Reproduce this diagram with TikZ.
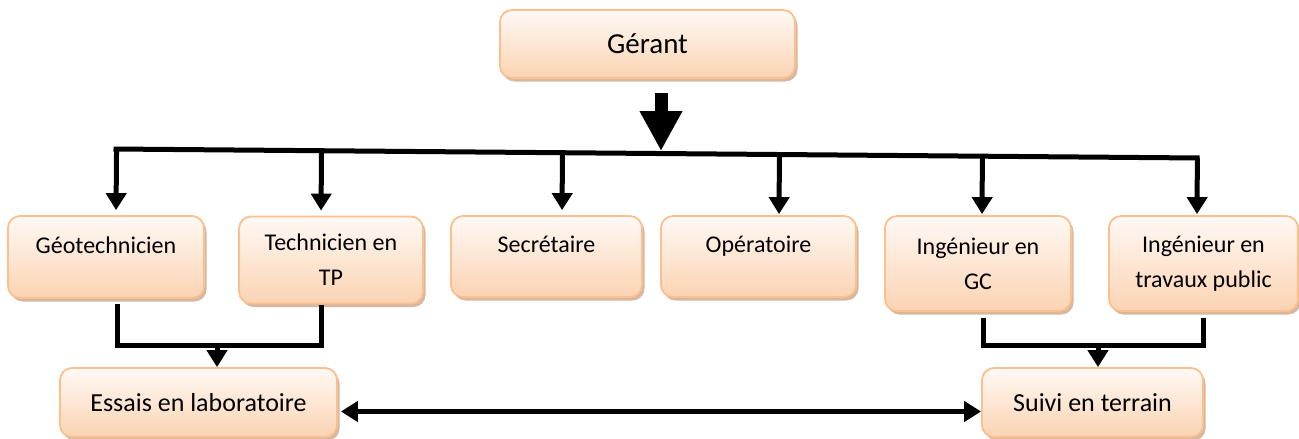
\documentclass[tikz,border=0pt]{standalone}
\usepackage{fontspec}
\setmainfont{Carlito}
\usetikzlibrary{arrows.meta,shadows,calc}

\definecolor{boxline}{RGB}{250,192,143}
\definecolor{boxtop}{RGB}{255,249,245}
\definecolor{boxbot}{RGB}{251,211,178}
\definecolor{boxshadow}{RGB}{205,165,135}

\begin{document}
\begin{tikzpicture}[x=1pt,y=-1pt]
\useasboundingbox (0,0) rectangle (1299,439);

\tikzset{
    box/.style = {draw=boxline, line width=1.8pt, rounded corners=12pt,
        top color=boxtop, bottom color=boxbot, inner sep=0pt, align=center,
        drop shadow={shadow xshift=2.5pt, shadow yshift=-3.5pt, fill=boxshadow, opacity=.8}},
    role/.style = {box, font=\fontsize{24}{35}\selectfont},
    task/.style = {box, font=\fontsize{26}{32}\selectfont},
    link/.style = {line width=5pt},
    drop/.style = {line width=5pt, -{Triangle[width=20pt,length=17pt]}},
    both/.style = {line width=5pt, {Triangle[width=20pt,length=17pt]}-{Triangle[width=20pt,length=17pt]}},
    bigarrow/.style = {line width=13pt, -{Triangle[width=40pt,length=40pt]}}
}

\node [box, font=\fontsize{29}{35}\selectfont, minimum width=295pt, minimum height=68pt] (gerant) at (647.5,44) {Gérant};

\node [role, minimum width=196pt, minimum height=82pt] (geo) at (106,257) {Géotechnicien\\[-22pt]\strut};
\node [role, minimum width=184pt, minimum height=87pt] (tech) at (331,260) {Technicien en\\TP};
\node [role, minimum width=191pt, minimum height=81pt] (secr) at (546.5,256.5) {Secrétaire\\[-20pt]\strut};
\node [role, minimum width=195pt, minimum height=81pt] (oper) at (758.5,256.5) {Opératoire\\[-20pt]\strut};
\node [role, minimum width=186pt, minimum height=95pt] (gc) at (978,263.5) {Ingénieur en\\GC};
\node [role, minimum width=189pt, minimum height=95pt] (tpub) at (1203.5,263.5) {Ingénieur en\\travaux public};

\node [task, minimum width=277pt, minimum height=69pt] (essais) at (198.5,402.5) {Essais en laboratoire};
\node [task, minimum width=221pt, minimum height=69pt] (suivi) at (1092.5,402.5) {Suivi en terrain};

\coordinate (barL) at (113.5,149);
\coordinate (barR) at (1199.5,158);
\coordinate (hub) at (661,151);
\coordinate (labjoin) at (217,345);
\coordinate (fieldjoin) at (1098,345);

\draw [bigarrow] ([xshift=13.5pt,yshift=-14pt]gerant.south) -- (hub);
\draw [link] (barL) -- (barR);

\foreach \n/\dx/\gap in {geo/10/5, tech/-10/5, secr/15.5/5, oper/20.5/1, gc/4/1, tpub/-6.5/1}
    \draw [drop, shorten >=\gap pt] ($(barL)!([xshift=\dx pt]\n.north)!(barR)$) -- ([xshift=\dx pt]\n.north);

\draw [link] ([xshift=11pt,yshift=-5pt]geo.south) |- (labjoin) -| ([xshift=-10pt,yshift=-1pt]tech.south);
\draw [drop] (labjoin) -- (essais.north -| labjoin);

\draw [link] ([xshift=5pt,yshift=-6pt]gc.south) |- (fieldjoin) -| ([xshift=-0.5pt,yshift=-6pt]tpub.south);
\draw [drop] (fieldjoin) -- (suivi.north -| fieldjoin);

\draw [both, shorten <=3pt] ([yshift=-9pt]essais.east) -- ([yshift=-9pt]suivi.west);
\end{tikzpicture}
\end{document}
